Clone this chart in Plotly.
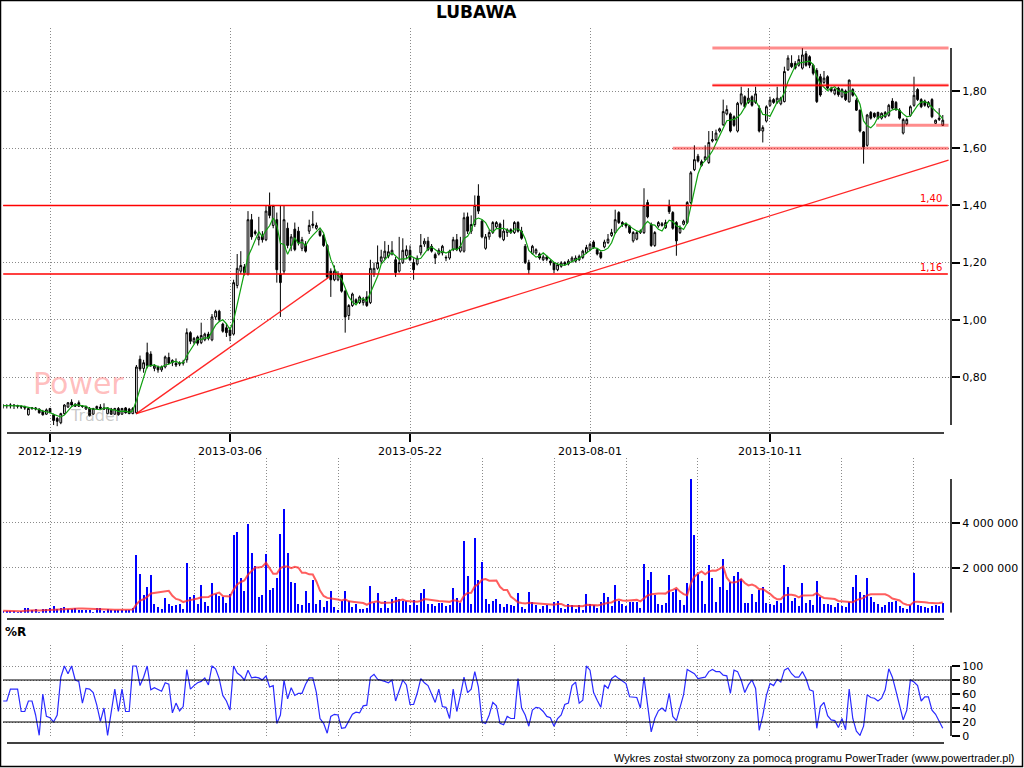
import plotly.graph_objects as go
import pandas as pd

ticker = "LUBAWA"
date_labels = ["2012-12-19", "2013-03-06", "2013-05-22", "2013-08-01", "2013-10-11"]
date_label_index = [13, 63, 113, 163, 213]

opens = [
    0.700,0.700,0.700,0.702,0.700,0.698,0.695,0.668,0.690,0.692,
    0.688,0.680,0.670,0.690,0.668,0.655,0.640,0.672,0.695,0.712,
    0.705,0.710,0.698,0.688,0.690,0.670,0.690,0.695,0.692,0.672,
    0.688,0.670,0.690,0.670,0.692,0.688,0.672,0.675,0.862,0.830,
    0.885,0.880,0.830,0.835,0.825,0.835,0.868,0.850,0.848,0.845,
    0.848,0.860,0.955,0.922,0.940,0.920,0.930,0.950,0.930,1.010,
    1.030,0.985,0.972,0.965,0.950,1.120,1.170,1.185,1.160,1.350,
    1.308,1.280,1.295,1.280,1.400,1.330,1.350,1.160,1.170,1.320,
    1.260,1.317,1.310,1.250,1.265,1.310,1.335,1.320,1.310,1.295,
    1.260,1.170,1.140,1.140,1.160,1.100,1.015,1.050,1.070,1.060,
    1.060,1.080,1.060,1.160,1.180,1.205,1.216,1.222,1.230,1.210,
    1.170,1.200,1.225,1.243,1.200,1.195,1.234,1.265,1.275,1.257,
    1.228,1.230,1.234,1.216,1.216,1.245,1.280,1.240,1.240,1.360,
    1.310,1.333,1.433,1.345,1.250,1.290,1.305,1.325,1.335,1.280,
    1.305,1.315,1.305,1.340,1.310,1.257,1.200,1.232,1.234,1.230,
    1.210,1.220,1.205,1.199,1.175,1.187,1.200,1.195,1.205,1.205,
    1.210,1.218,1.235,1.245,1.272,1.245,1.235,1.255,1.270,1.295,
    1.305,1.375,1.340,1.335,1.328,1.276,1.282,1.305,1.305,1.410,
    1.334,1.260,1.328,1.330,1.322,1.400,1.375,1.340,1.305,1.334,
    1.340,1.410,1.525,1.572,1.553,1.560,1.550,1.625,1.630,1.660,
    1.682,1.720,1.720,1.710,1.660,1.757,1.780,1.760,1.780,1.760,
    1.740,1.660,1.695,1.750,1.770,1.760,1.755,1.763,1.874,1.897,
    1.897,1.890,1.880,1.930,1.920,1.890,1.872,1.850,1.830,1.850,
    1.810,1.790,1.810,1.780,1.800,1.762,1.805,1.768,1.733,1.657,
    1.610,1.725,1.722,1.725,1.705,1.710,1.715,1.765,1.760,1.733,
    1.653,1.685,1.715,1.750,1.805,1.770,1.765,1.745,1.770,1.687,
    1.700,1.680,
]
highs = [
    0.705,0.705,0.708,0.705,0.703,0.700,0.700,0.692,0.695,0.695,
    0.690,0.685,0.690,0.692,0.672,0.660,0.675,0.705,0.712,0.722,
    0.708,0.718,0.702,0.700,0.695,0.692,0.700,0.705,0.708,0.695,
    0.692,0.692,0.695,0.692,0.695,0.692,0.695,0.842,0.875,0.860,
    0.920,0.890,0.845,0.840,0.840,0.875,0.885,0.862,0.865,0.855,
    0.860,0.970,0.960,0.940,0.945,0.990,0.955,0.958,1.020,1.035,
    1.035,0.990,0.985,0.975,1.140,1.230,1.240,1.195,1.380,1.370,
    1.315,1.360,1.310,1.400,1.445,1.400,1.375,1.400,1.400,1.340,
    1.300,1.340,1.325,1.290,1.275,1.350,1.380,1.340,1.320,1.300,
    1.265,1.180,1.190,1.170,1.165,1.105,1.055,1.095,1.075,1.085,
    1.080,1.100,1.210,1.200,1.260,1.245,1.275,1.262,1.275,1.220,
    1.290,1.285,1.260,1.260,1.215,1.225,1.300,1.285,1.290,1.265,
    1.235,1.250,1.262,1.225,1.245,1.290,1.300,1.290,1.375,1.375,
    1.365,1.435,1.474,1.350,1.300,1.315,1.345,1.345,1.340,1.350,
    1.320,1.320,1.345,1.345,1.325,1.265,1.210,1.262,1.250,1.235,
    1.228,1.225,1.210,1.202,1.200,1.205,1.205,1.212,1.222,1.225,
    1.228,1.245,1.262,1.270,1.278,1.250,1.240,1.280,1.300,1.318,
    1.385,1.380,1.345,1.340,1.332,1.310,1.310,1.316,1.460,1.420,
    1.340,1.310,1.345,1.342,1.350,1.420,1.380,1.345,1.330,1.350,
    1.415,1.520,1.610,1.580,1.560,1.610,1.660,1.660,1.665,1.672,
    1.770,1.750,1.725,1.715,1.762,1.815,1.785,1.810,1.785,1.815,
    1.750,1.680,1.750,1.780,1.775,1.815,1.780,1.885,1.925,1.925,
    1.905,1.925,1.950,1.940,1.925,1.895,1.880,1.860,1.870,1.855,
    1.815,1.810,1.815,1.810,1.805,1.840,1.810,1.775,1.735,1.660,
    1.720,1.730,1.725,1.728,1.725,1.730,1.755,1.775,1.765,1.740,
    1.705,1.705,1.750,1.850,1.810,1.775,1.770,1.765,1.775,1.700,
    1.740,1.716,
]
lows = [
    0.690,0.690,0.690,0.688,0.690,0.688,0.685,0.665,0.685,0.683,
    0.672,0.665,0.668,0.672,0.632,0.628,0.635,0.668,0.692,0.700,
    0.695,0.695,0.692,0.685,0.662,0.668,0.688,0.688,0.685,0.670,
    0.668,0.668,0.665,0.668,0.672,0.670,0.670,0.670,0.820,0.815,
    0.830,0.835,0.820,0.815,0.818,0.830,0.845,0.838,0.835,0.838,
    0.840,0.850,0.915,0.915,0.910,0.915,0.925,0.928,0.925,1.000,
    0.995,0.955,0.940,0.925,0.945,1.110,1.160,1.155,1.155,1.280,
    1.295,1.260,1.270,1.275,1.355,1.320,1.130,1.010,1.160,1.250,
    1.240,1.240,1.260,1.240,1.235,1.300,1.320,1.315,1.290,1.255,
    1.145,1.080,1.135,1.135,1.095,0.955,1.000,1.045,1.055,1.055,
    1.050,1.045,1.055,1.150,1.175,1.195,1.210,1.215,1.225,1.150,
    1.165,1.195,1.215,1.205,1.140,1.190,1.225,1.255,1.240,1.235,
    1.195,1.225,1.225,1.205,1.210,1.240,1.240,1.235,1.235,1.300,
    1.300,1.325,1.370,1.285,1.245,1.280,1.300,1.320,1.285,1.275,
    1.290,1.300,1.300,1.305,1.280,1.195,1.160,1.228,1.228,1.210,
    1.205,1.205,1.190,1.163,1.170,1.182,1.190,1.190,1.200,1.200,
    1.205,1.212,1.230,1.240,1.248,1.225,1.212,1.250,1.265,1.290,
    1.300,1.335,1.325,1.320,1.300,1.270,1.278,1.300,1.300,1.355,
    1.255,1.255,1.322,1.326,1.318,1.370,1.315,1.224,1.300,1.330,
    1.335,1.405,1.520,1.550,1.535,1.555,1.545,1.620,1.625,1.655,
    1.678,1.715,1.655,1.675,1.655,1.750,1.740,1.755,1.745,1.755,
    1.655,1.620,1.690,1.745,1.755,1.755,1.750,1.760,1.870,1.880,
    1.875,1.885,1.875,1.885,1.880,1.855,1.758,1.780,1.825,1.805,
    1.795,1.785,1.780,1.775,1.765,1.760,1.780,1.730,1.655,1.546,
    1.605,1.700,1.705,1.700,1.700,1.705,1.710,1.735,1.730,1.700,
    1.648,1.680,1.710,1.745,1.765,1.740,1.745,1.740,1.705,1.685,
    1.695,1.678,
]
closes = [
    0.700,0.700,0.702,0.700,0.698,0.695,0.692,0.690,0.692,0.688,
    0.675,0.668,0.685,0.676,0.648,0.645,0.672,0.702,0.710,0.702,
    0.698,0.698,0.697,0.697,0.665,0.690,0.697,0.690,0.688,0.692,
    0.670,0.690,0.668,0.690,0.675,0.672,0.690,0.835,0.828,0.850,
    0.840,0.840,0.838,0.825,0.835,0.870,0.848,0.858,0.842,0.848,
    0.852,0.955,0.925,0.935,0.918,0.945,0.950,0.935,1.010,1.030,
    1.000,0.960,0.955,0.945,1.130,1.180,1.190,1.165,1.350,1.290,
    1.302,1.290,1.280,1.380,1.365,1.400,1.175,1.130,1.350,1.260,
    1.290,1.246,1.270,1.280,1.240,1.330,1.330,1.330,1.295,1.260,
    1.150,1.140,1.170,1.160,1.100,1.010,1.050,1.090,1.060,1.080,
    1.070,1.050,1.180,1.180,1.200,1.220,1.240,1.238,1.243,1.165,
    1.200,1.243,1.245,1.210,1.175,1.215,1.260,1.275,1.245,1.240,
    1.216,1.243,1.257,1.218,1.240,1.280,1.245,1.257,1.357,1.310,
    1.333,1.400,1.380,1.290,1.290,1.305,1.340,1.340,1.290,1.310,
    1.315,1.305,1.340,1.310,1.285,1.200,1.175,1.257,1.245,1.216,
    1.220,1.212,1.199,1.175,1.193,1.199,1.195,1.205,1.216,1.216,
    1.222,1.240,1.253,1.264,1.253,1.230,1.218,1.272,1.282,1.305,
    1.350,1.340,1.334,1.328,1.305,1.305,1.305,1.311,1.400,1.360,
    1.260,1.305,1.340,1.336,1.340,1.378,1.320,1.276,1.322,1.345,
    1.410,1.514,1.560,1.555,1.540,1.570,1.620,1.630,1.653,1.668,
    1.728,1.735,1.660,1.680,1.757,1.790,1.745,1.775,1.750,1.790,
    1.660,1.672,1.745,1.768,1.760,1.775,1.775,1.868,1.915,1.885,
    1.880,1.910,1.926,1.890,1.890,1.862,1.763,1.786,1.845,1.810,
    1.800,1.805,1.787,1.805,1.770,1.838,1.785,1.733,1.660,1.604,
    1.716,1.705,1.710,1.705,1.722,1.725,1.750,1.740,1.735,1.705,
    1.700,1.700,1.745,1.785,1.770,1.745,1.750,1.760,1.710,1.698,
    1.705,1.698,
]
volumes_mln = [
    0.09,0.07,0.07,0.07,0.03,0.09,0.19,0.19,0.12,0.15,
    0.03,0.15,0.15,0.19,0.30,0.15,0.19,0.27,0.15,0.15,
    0.19,0.12,0.12,0.12,0.12,0.03,0.22,0.22,0.09,0.15,
    0.12,0.12,0.12,0.12,0.12,0.12,0.22,2.55,1.71,0.78,
    1.15,1.67,0.38,0.27,0.18,0.66,0.38,0.31,0.34,0.38,
    0.16,2.20,0.69,0.80,0.38,1.23,0.47,0.30,1.31,0.81,
    0.74,0.69,0.43,0.83,3.44,3.57,1.53,0.96,3.93,2.64,
    2.07,0.69,0.78,2.60,1.00,1.09,1.53,3.48,4.63,2.64,
    1.36,1.31,0.38,0.34,0.96,0.43,1.45,0.38,0.56,0.25,
    0.52,0.96,0.25,0.12,0.52,0.96,0.52,0.25,0.38,0.16,
    0.16,0.21,1.18,0.43,0.87,0.21,0.52,0.21,0.60,0.69,
    0.60,0.52,0.52,0.34,0.56,0.34,0.87,1.05,0.38,0.38,
    0.30,0.43,0.43,0.30,0.34,1.09,0.65,0.43,3.17,1.62,
    0.38,3.31,1.45,2.24,0.60,0.38,0.52,0.60,0.38,0.25,
    0.38,0.34,0.31,0.87,0.25,0.16,0.92,0.47,0.34,0.16,
    0.30,0.34,0.16,0.47,0.52,0.21,0.16,0.38,0.34,0.16,
    0.34,0.12,0.83,0.38,0.34,0.21,0.47,0.87,0.69,0.30,
    1.23,0.52,0.38,0.30,0.47,0.47,0.47,0.21,2.15,1.45,
    1.80,0.78,0.38,0.34,0.43,1.67,0.92,1.05,0.56,0.34,
    1.31,5.96,3.44,1.71,1.40,0.38,2.11,1.53,0.47,1.14,
    2.38,1.00,1.36,1.62,1.80,1.49,0.43,0.43,0.83,0.47,
    1.00,1.14,0.43,0.38,0.34,0.52,0.43,2.11,1.14,0.52,
    0.65,0.30,1.31,0.43,0.56,0.34,1.40,0.69,0.38,0.38,
    0.34,0.25,0.43,0.30,0.25,0.47,1.14,1.67,0.92,0.78,
    1.53,0.69,0.47,0.38,0.25,0.34,0.47,0.47,0.52,0.30,
    0.21,0.16,0.34,1.76,0.34,0.30,0.25,0.21,0.30,0.34,
    0.30,0.43,
]
williams_r = [
    50,50,67,67,67,35,35,50,50,30,
    1,60,28,26,20,30,84,100,89,100,
    80,78,47,68,67,62,44,21,40,1,
    35,67,35,67,35,35,100,100,72,84,
    100,66,69,66,64,76,74,33,47,36,
    42,95,67,72,76,78,83,73,100,96,
    82,58,50,37,100,90,86,80,94,83,
    84,83,80,86,70,72,18,30,80,53,
    69,58,61,61,74,83,83,62,25,18,
    4,28,31,30,11,12,21,31,34,33,
    43,44,84,88,81,80,78,76,80,50,
    66,80,73,45,45,61,82,76,72,61,
    48,67,42,41,25,67,35,58,84,62,
    67,92,70,20,18,30,48,43,18,16,
    28,25,25,82,40,30,14,37,41,40,
    35,28,26,14,25,30,45,47,72,77,
    47,51,100,94,62,51,41,73,68,82,
    86,82,78,75,56,56,55,40,84,44,
    6,25,36,40,35,61,28,22,42,59,
    95,92,89,82,83,84,92,95,92,92,
    87,86,61,94,92,80,62,73,80,68,
    8,29,58,75,72,81,77,94,97,89,
    84,84,92,82,66,64,11,42,48,29,
    23,22,12,25,9,67,25,7,1,14,
    59,55,54,50,54,66,96,84,64,42,
    23,37,80,77,72,50,56,56,37,31,
    22,11,
]

# horizontal levels drawn across the whole chart (with value labels)
full_levels = [1.40, 1.16]
bottom_label_level = 0.60
# zone lines: (start candle index, price level)
zone_levels = [(197, 1.95), (197, 1.82), (186, 1.60), (242.5, 1.68)]
# trend lines: (start index, start price, end index, end price)
trend_lines = [(37, 0.672, 262.6, 1.558), (37, 0.672, 90.6, 1.150)]

n = len(closes)
assert len(opens) == n and len(highs) == n and len(lows) == n
assert len(volumes_mln) == n and len(williams_r) == n
idx = list(range(n))
volumes = [v * 1e6 for v in volumes_mln]
ma_price = pd.Series(closes).rolling(4, min_periods=1).mean()
ma_vol = pd.Series(volumes).rolling(10, min_periods=1).mean()

W, H = 1024, 768
ML, MR, MT, MB = 3, 73, 28, 32
PW, PH = W - ML - MR, H - MT - MB


def fx(px):
    return (px - ML) / PW


def fy(py):
    return (H - MB - py) / PH


X_RANGE = [-0.056, 263.28]
P_RANGE = [0.6042, 2.0203]
V_RANGE = [0, 6.876e6]
R_RANGE = [0, 130]

FONT = "DejaVu Sans"
GRID = "#8a8a8a"
DOT = "1px,2px"
grid20 = list(range(13, n, 20))

fig = go.Figure()
fig.add_trace(go.Candlestick(
    x=idx, open=opens, high=highs, low=lows, close=closes,
    increasing=dict(line=dict(color="black", width=1), fillcolor="white"),
    decreasing=dict(line=dict(color="black", width=1), fillcolor="black"),
    whiskerwidth=0, hoverinfo="skip", showlegend=False, xaxis="x", yaxis="y"))
fig.add_trace(go.Scatter(x=idx, y=ma_price, mode="lines",
                         line=dict(color="#10a010", width=1.2),
                         hoverinfo="skip", showlegend=False, xaxis="x", yaxis="y"))
fig.add_trace(go.Bar(x=idx, y=volumes, width=0.6,
                     marker=dict(color="#0000ff", line=dict(width=0)),
                     hoverinfo="skip", showlegend=False, xaxis="x2", yaxis="y2"))
fig.add_trace(go.Scatter(x=idx, y=ma_vol, mode="lines",
                         line=dict(color="rgba(255,40,40,0.75)", width=2),
                         hoverinfo="skip", showlegend=False, xaxis="x2", yaxis="y2"))
fig.add_trace(go.Scatter(x=idx, y=williams_r, mode="lines",
                         line=dict(color="#2a2aff", width=1.2),
                         hoverinfo="skip", showlegend=False, xaxis="x3", yaxis="y3"))

tickfont = dict(family=FONT, size=11, color="black")
common_x = dict(range=X_RANGE, showline=False, zeroline=False, showgrid=True,
                gridcolor=GRID, griddash=DOT, gridwidth=1, domain=[0, 1])
common_y = dict(side="right", showline=False, zeroline=False, showgrid=True,
                gridcolor=GRID, griddash=DOT, gridwidth=1, ticks="outside",
                ticklen=8, tickwidth=1.5, tickcolor="black", tickfont=tickfont)

shapes = []
# axis spines
for yref, y0, y1 in [("y", 0.632, 1.950), ("y2", 0, 5.94e6), ("y3", 0, 100)]:
    shapes.append(dict(type="line", xref="paper", yref=yref, x0=1, x1=1, y0=y0, y1=y1,
                       line=dict(color="black", width=1.5)))
for py in [433, 619, 743]:
    shapes.append(dict(type="line", xref="paper", yref="paper", x0=fx(7), x1=fx(944),
                       y0=fy(py), y1=fy(py), line=dict(color="black", width=1.5)))
for lv in [80, 20]:
    shapes.append(dict(type="line", xref="paper", yref="y3", x0=0, x1=1, y0=lv, y1=lv,
                       line=dict(color="black", width=1.2)))
# levels
for lv in full_levels:
    shapes.append(dict(type="line", xref="x", yref="y", x0=0, x1=262.4, y0=lv, y1=lv,
                       line=dict(color="red", width=1.5)))
for start, lv in zone_levels:
    shapes.append(dict(type="line", xref="x", yref="y", x0=start, x1=262.6, y0=lv, y1=lv,
                       line=dict(color="rgba(255,0,0,0.45)", width=3)))
shapes.append(dict(type="line", xref="x", yref="y", x0=197, x1=262.6, y0=1.82, y1=1.82,
                   line=dict(color="red", width=1)))
for x0, y0, x1, y1 in trend_lines:
    shapes.append(dict(type="line", xref="x", yref="y", x0=x0, x1=x1, y0=y0, y1=y1,
                       line=dict(color="rgba(255,0,0,0.85)", width=1.3)))
# outer frame
shapes.append(dict(type="rect", xref="paper", yref="paper", x0=fx(0.5), x1=fx(1022.5),
                   y0=fy(766.5), y1=fy(0.5), line=dict(color="black", width=1.5),
                   fillcolor="rgba(0,0,0,0)"))

annotations = [
    dict(text="<b>" + ticker + "</b>", xref="paper", yref="paper", x=fx(476), y=fy(12),
         showarrow=False, xanchor="center", yanchor="middle",
         font=dict(family=FONT, size=17, color="black")),
    dict(text="<b>%R</b>", xref="paper", yref="paper", x=fx(3), y=fy(632),
         showarrow=False, xanchor="left", yanchor="middle",
         font=dict(family=FONT, size=12, color="black")),
    dict(text="Wykres został stworzony za pomocą programu PowerTrader (www.powertrader.pl)",
         xref="paper", yref="paper", x=fx(1017), y=fy(758), showarrow=False,
         xanchor="right", yanchor="middle",
         font=dict(family="Liberation Sans", size=11, color="black")),
    dict(text="Power", xref="paper", yref="paper", x=fx(78), y=fy(384), showarrow=False,
         xanchor="center", yanchor="middle",
         font=dict(family=FONT, size=30, color="rgba(255,110,110,0.45)")),
    dict(text="Trader", xref="paper", yref="paper", x=fx(96), y=fy(415), showarrow=False,
         xanchor="center", yanchor="middle",
         font=dict(family=FONT, size=16, color="rgba(100,100,100,0.35)")),
]
for lv in full_levels + [bottom_label_level]:
    annotations.append(dict(text=f"{lv:.2f}".replace(".", ","), xref="x", yref="y",
                            x=261.2, y=lv, showarrow=False, xanchor="right",
                            yanchor="bottom", yshift=-1,
                            font=dict(family=FONT, size=10, color="red")))

fig.update_layout(
    width=W, height=H, margin=dict(l=ML, r=MR, t=MT, b=MB),
    paper_bgcolor="white", plot_bgcolor="white", separators=", ",
    showlegend=False, hovermode=False,
    xaxis=dict(**common_x, anchor="y", tickmode="array", tickvals=date_label_index,
               ticktext=date_labels, ticks="outside", ticklen=8, tickwidth=1.5,
               tickcolor="black", tickfont=tickfont, rangeslider=dict(visible=False)),
    xaxis2=dict(**common_x, anchor="y2", matches="x", tickmode="array", tickvals=grid20,
                showticklabels=False, ticks=""),
    xaxis3=dict(**common_x, anchor="y3", matches="x", tickmode="array", tickvals=grid20,
                showticklabels=False, ticks=""),
    yaxis=dict(**common_y, anchor="x", domain=[fy(433), fy(28)], range=P_RANGE,
               tickmode="array", tickvals=[0.8, 1.0, 1.2, 1.4, 1.6, 1.8], tickformat=".2f"),
    yaxis2=dict(**common_y, anchor="x2", domain=[fy(612.7), fy(458)], range=V_RANGE,
                tickmode="array", tickvals=[2e6, 4e6], tickformat=",.0f"),
    yaxis3=dict(**common_y, anchor="x3", domain=[0, fy(645)], range=R_RANGE,
                tickmode="array", tickvals=[0, 20, 40, 60, 80, 100], tickformat="d"),
    shapes=shapes, annotations=annotations, bargap=0,
)

fig.write_html("out.html", config={"displayModeBar": False},
               post_script="document.body.style.margin='0px';document.body.style.overflow='hidden';")
